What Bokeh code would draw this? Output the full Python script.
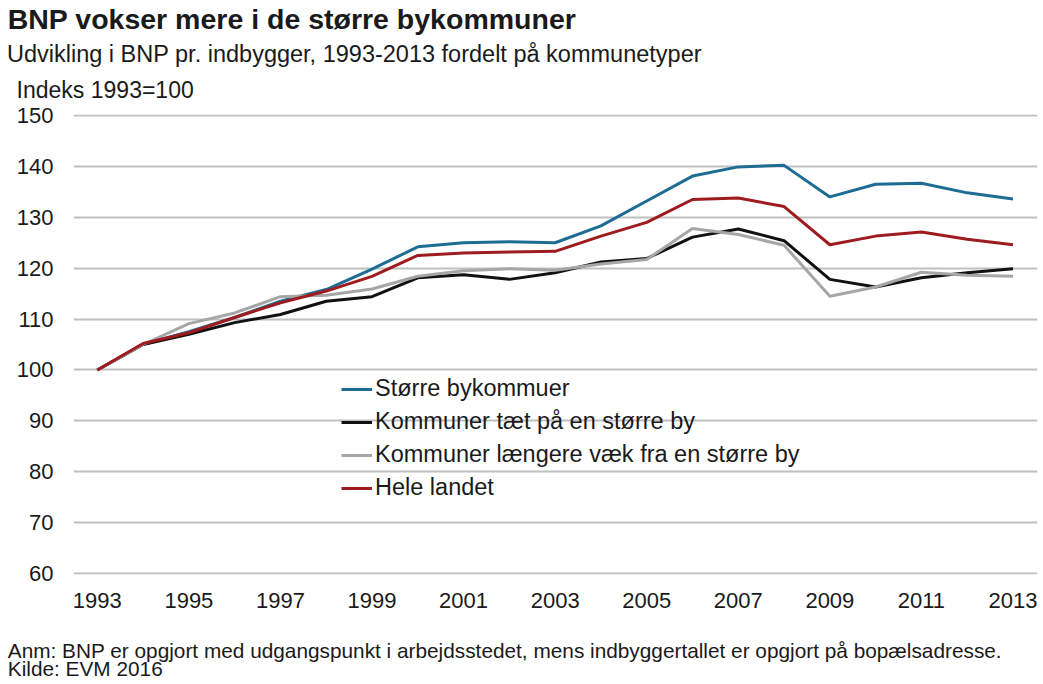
from bokeh.plotting import figure
from bokeh.models import FixedTicker, Legend, LegendItem, Range1d, Title
from bokeh.embed import file_html
from bokeh.resources import INLINE

years = list(range(1993, 2014))
storre = [100, 105, 107.5, 110.3, 113.5, 115.8, 119.8, 124.2, 125.0, 125.2, 125.0,
          128.3, 133.2, 138.1, 139.9, 140.2, 134.0, 136.5, 136.7, 134.8, 133.6]
taet = [100, 105, 107.0, 109.3, 110.9, 113.5, 114.4, 118.1, 118.7, 117.8, 119.1,
        121.2, 121.9, 126.1, 127.7, 125.4, 117.8, 116.3, 118.1, 119.1, 119.9]
laengere = [100, 105, 109.1, 111.2, 114.4, 114.7, 115.9, 118.4, 119.5, 119.9, 119.6,
            120.8, 121.7, 127.8, 126.6, 124.5, 114.5, 116.3, 119.2, 118.6, 118.4]
hele = [100, 105.2, 107.3, 110.3, 113.2, 115.5, 118.4, 122.5, 123.0, 123.2, 123.3,
        126.3, 129.0, 133.5, 133.8, 132.1, 124.6, 126.3, 127.1, 125.7, 124.6]

series_names = ["Større bykommuer", "Kommuner tæt på en større by",
                "Kommuner længere væk fra en større by", "Hele landet"]
colors = ["#1d6c93", "#111111", "#a6a6a6", "#9e1c20"]
y_ticks = list(range(60, 151, 10))
x_ticks = list(range(1993, 2014, 2))

title_text = "BNP vokser mere i de større bykommuner"
subtitle_text = "Udvikling i BNP pr. indbygger, 1993-2013 fordelt på kommunetyper"
unit_text = "Indeks 1993=100"
note_text = "Anm: BNP er opgjort med udgangspunkt i arbejdsstedet, mens indbyggertallet er opgjort på bopælsadresse."
source_text = "Kilde: EVM 2016"

FONT = "Liberation Sans"
TXT = "#1a1a1a"

p = figure(width=1040, height=682, output_backend="svg", toolbar_location=None,
           x_range=Range1d(1992.48, 2013.535), y_range=Range1d(59.803, 150.197),
           min_border_left=73, min_border_right=3, min_border_top=114, min_border_bottom=108)
p.outline_line_color = None
p.background_fill_color = "white"
p.border_fill_color = "white"

p.xgrid.visible = False
p.ygrid.ticker = FixedTicker(ticks=y_ticks)
p.ygrid.grid_line_color = "#c0c0c0"
p.ygrid.grid_line_width = 2

for ax in (p.xaxis[0], p.yaxis[0]):
    ax.axis_line_color = None
    ax.major_tick_line_color = None
    ax.minor_tick_line_color = None
    ax.major_tick_out = 0
    ax.major_tick_in = 0
    ax.minor_tick_out = 0
    ax.major_label_text_font = FONT
    ax.major_label_text_font_size = "22px"
    ax.major_label_text_color = TXT
p.yaxis.ticker = FixedTicker(ticks=y_ticks)
p.yaxis.major_label_standoff = 20
p.xaxis.ticker = FixedTicker(ticks=x_ticks)
p.xaxis.major_label_standoff = 18

items = []
for name, ys, c in zip(series_names, [storre, taet, laengere, hele], colors):
    r = p.line(years, ys, line_color=c, line_width=3)
    items.append(LegendItem(label=name, renderers=[r]))

legend = Legend(items=items, location=(268, 73))
legend.label_text_font = FONT
legend.label_text_font_size = "23.5px"
legend.label_text_color = TXT
legend.glyph_width = 31
legend.glyph_height = 26
legend.label_height = 26
legend.spacing = 6
legend.padding = 0
legend.margin = 0
legend.label_standoff = 3
legend.border_line_color = None
legend.background_fill_alpha = 0
p.add_layout(legend)

# main title (outermost in the top panel)
p.title.text = title_text
p.title.text_font = FONT
p.title.text_font_size = "28.5px"
p.title.text_font_style = "bold"
p.title.text_color = TXT
p.title.align = "left"
p.title.offset = -65.8
p.title.standoff = 1.4
p.title.vertical_align = "bottom"

def spacer(gap):
    return Title(text=" ", text_font_size="1px", text_color="white", standoff=gap)

# top panel, nearest to the frame first
p.add_layout(spacer(9.3), "above")
p.add_layout(Title(text=unit_text, text_font=FONT, text_font_size="23px",
                   text_font_style="normal", text_color=TXT, align="left",
                   offset=-56.9, standoff=0, vertical_align="bottom"), "above")
p.add_layout(Title(text=subtitle_text, text_font=FONT, text_font_size="23.5px",
                   text_font_style="normal", text_color=TXT, align="left",
                   offset=-66.5, standoff=10.6, vertical_align="top"), "above")

# bottom panel after the x axis
p.add_layout(spacer(21.6), "below")
p.add_layout(Title(text=note_text + "\n" + source_text, text_font=FONT,
                   text_font_size="20.8px", text_font_style="normal", text_color=TXT,
                   text_line_height=0.79, align="left", offset=-65.7, standoff=1.4,
                   vertical_align="bottom"), "below")

open("out.html", "w").write(file_html(p, INLINE))
